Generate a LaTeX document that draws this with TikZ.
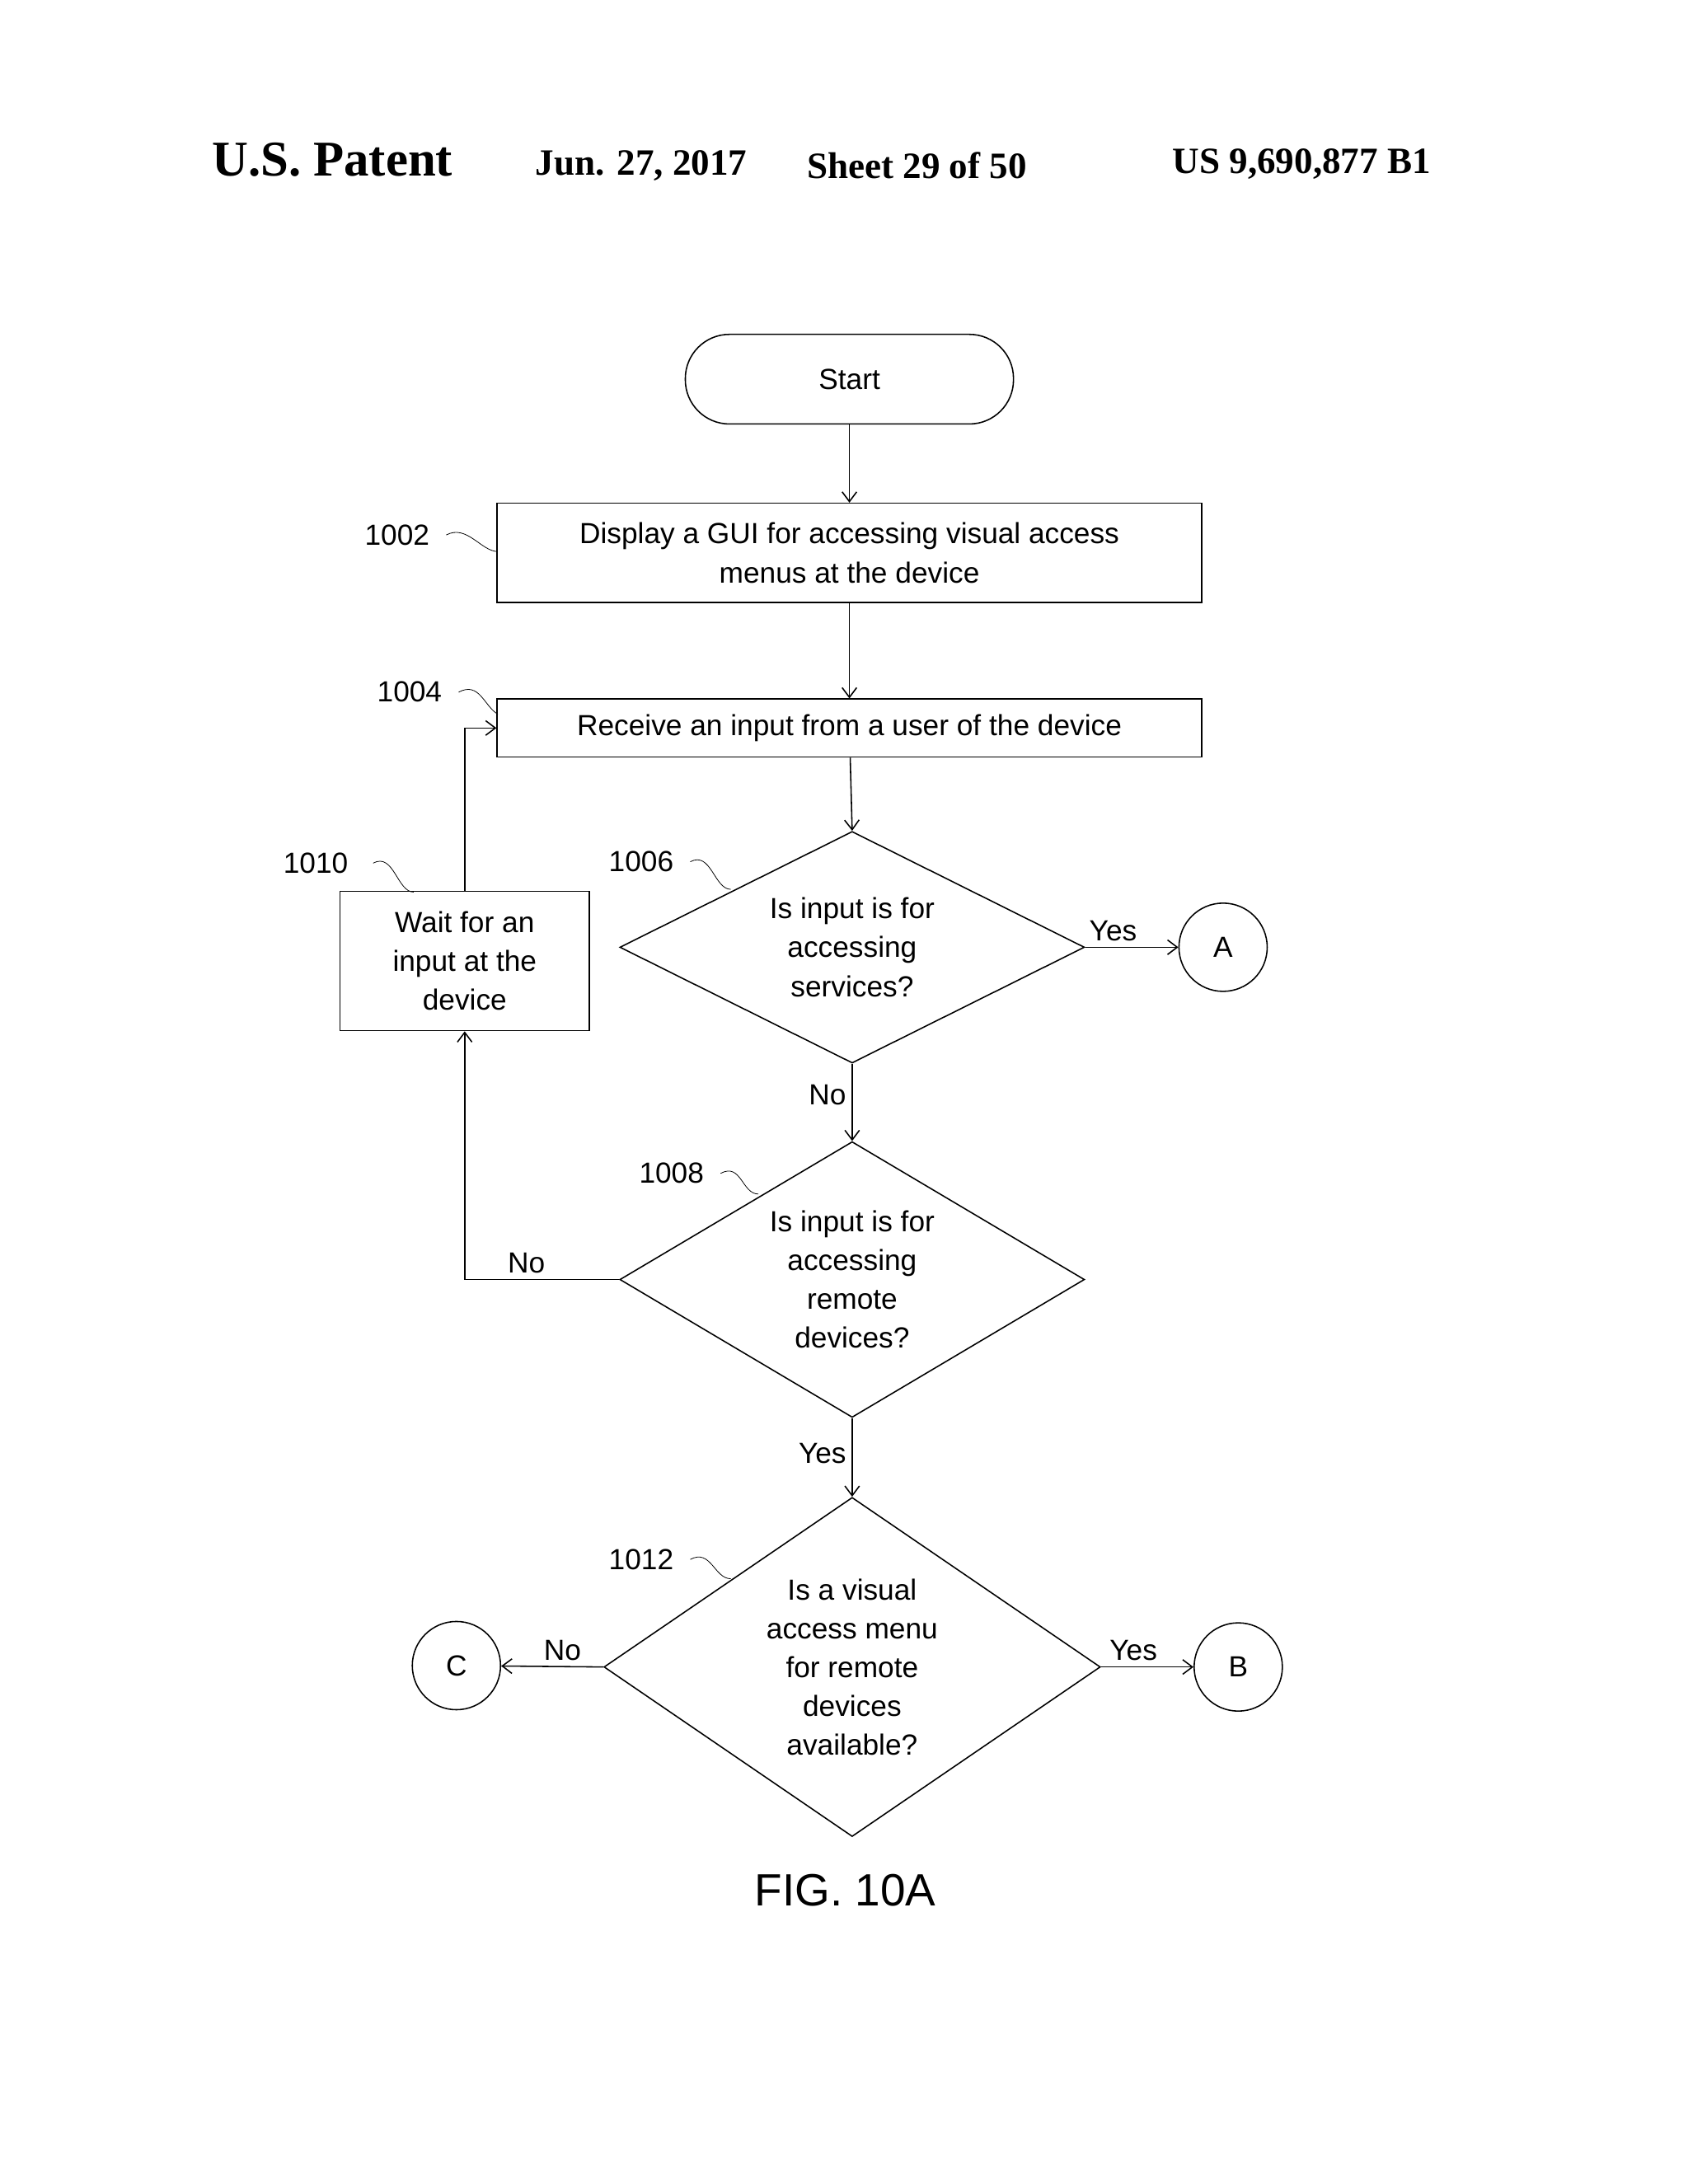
\documentclass[tikz,border=0pt]{standalone}
\usepackage{fontspec}
\setmainfont{Liberation Sans}
\newfontfamily\tms{Liberation Serif}
\usetikzlibrary{shapes.geometric,arrows.meta}
\begin{document}
\begin{tikzpicture}[x=0.03cm,y=-0.03cm,
  every node/.style={font=\fontsize{18}{24}\selectfont},
  box/.style={draw,thick,align=center,inner sep=0},
  dia/.style={draw,thick,diamond,align=center,inner sep=0},
  circ/.style={draw,thick,circle,minimum size=64*0.03cm,inner sep=0},
  arr/.style={thick,-{Straight Barb[length=6pt,width=9pt]}},
  sq/.style={thin},
  hdr/.style={font=\tms\bfseries\fontsize{23}{26}\selectfont}]
\useasboundingbox (0,0) rectangle (1224,1584);
\node[hdr,font=\tms\bfseries\fontsize{31}{34}\selectfont] (h1) at (241,116) {U.S. Patent};
\node[hdr] (h2) at (465,120) {Jun. 27, 2017};
\node[hdr] (h3) at (665,120) {Sheet 29 of 50};
\node[hdr] (h4) at (944,119) {US 9,690,877 B1};

\node[box,rounded corners=32*0.03cm,minimum width=238*0.03cm,minimum height=65*0.03cm] (start) at (616,275) {Start};
\node[box,minimum width=511*0.03cm,minimum height=72*0.03cm] (b1002) at (616,401) {Display a GUI for accessing visual access\\menus at the device};
\node[box,minimum width=511*0.03cm,minimum height=42*0.03cm] (b1004) at (616,528) {Receive an input from a user of the device};
\node[dia,aspect=2,minimum width=337*0.03cm,minimum height=168*0.03cm] (d1006) at (618,687) {Is input is for\\accessing\\services?};
\node[circ] (A) at (887,687) {A};
\node[box,minimum width=181*0.03cm,minimum height=101*0.03cm] (b1010) at (337,697) {Wait for an\\input at the\\device};
\node[dia,aspect=1.68,minimum width=337*0.03cm,minimum height=200*0.03cm] (d1008) at (618,928) {Is input is for\\accessing\\remote\\devices?};
\node[dia,aspect=1.46,minimum width=360*0.03cm,minimum height=246*0.03cm] (d1012) at (618,1209) {Is a visual\\access menu\\for remote\\devices\\available?};
\node[circ] (C) at (331,1208) {C};
\node[circ] (B) at (898,1209) {B};
\node[font=\fontsize{28}{30}\selectfont] (fig) at (613,1371) {FIG. 10A};

\draw[arr] (start) -- (b1002);
\draw[arr] (b1002) -- (b1004);
\draw[arr] (b1004) -- (d1006.north);
\draw[arr] (d1006.east) -- node[above,pos=0.3] (yA) {Yes} (A);
\draw[arr] (d1006.south) -- node[left,pos=0.4] (nA) {No} (d1008.north);
\draw[arr] (d1008.west) -| node[above,pos=0.3] (nB) {No} (b1010.south);
\coordinate (k) at (337,528);
\draw[arr] (b1010.north) |- (b1004.west);
\draw[arr] (d1008.south) -- node[left,pos=0.45] (yB) {Yes} (d1012.north);
\draw[arr] (d1012.west) -- node[above,pos=0.4] (nC) {No} (C);
\draw[arr] (d1012.east) -- node[above,pos=0.35] (yC) {Yes} (B);

\node (l1002) at (288,388) {1002};
\draw[sq] (l1002.east) ++(8,0) .. controls +(15,-8) and +(-12,0) .. (361,400);
\node (l1004) at (297,502) {1004};
\draw[sq] (l1004.east) ++(8,0) .. controls +(15,-8) and +(-10,-6) .. (361,518);
\node (l1006) at (465,625) {1006};
\draw[sq] (l1006.east) ++(8,0) .. controls +(15,-8) and +(-12,0) .. (530,645);
\node (l1010) at (229,626) {1010};
\draw[sq] (l1010.east) ++(14,0) .. controls +(15,-8) and +(-12,0) .. (300,647);
\node (l1008) at (487,851) {1008};
\draw[sq] (l1008.east) ++(8,0) .. controls +(15,-8) and +(-12,0) .. (550,866);
\node (l1012) at (465,1131) {1012};
\draw[sq] (l1012.east) ++(8,0) .. controls +(15,-8) and +(-12,0) .. (530,1145);
\end{tikzpicture}
\end{document}
